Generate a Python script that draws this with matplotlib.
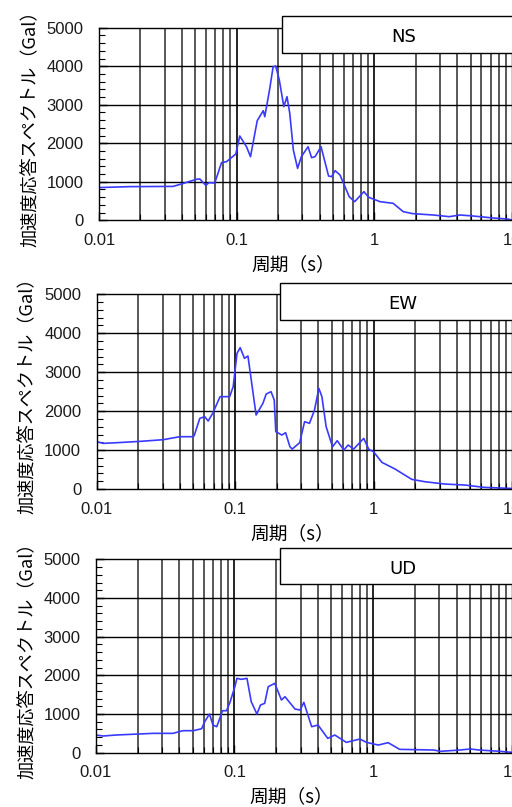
import matplotlib
matplotlib.use("Agg")
import matplotlib.pyplot as plt
from matplotlib.patches import Rectangle
from matplotlib.ticker import FixedLocator, MultipleLocator, NullFormatter

plt.rcParams['font.family'] = ['Noto Sans CJK JP', 'DejaVu Sans']

# period (s) and acceleration response (Gal)
ns_t = [0.01, 0.0167, 0.0345, 0.0397, 0.051, 0.054, 0.0596, 0.063, 0.0693, 0.0776,
        0.0844, 0.0985, 0.1053, 0.1178, 0.126, 0.141, 0.156, 0.160, 0.174, 0.184,
        0.192, 0.204, 0.220, 0.232, 0.243, 0.258, 0.277, 0.295, 0.330, 0.350,
        0.371, 0.410, 0.465, 0.489, 0.519, 0.563, 0.657, 0.720, 0.840, 0.910,
        1.10, 1.37, 1.62, 1.90, 2.67, 3.5, 4.2, 5.2, 7.3, 9.2, 10.0]
ns_a = [850, 874, 880, 943, 1064, 1073, 908, 977, 969, 1496,
        1522, 1721, 2188, 1911, 1652, 2586, 2846, 2690, 3425, 3988,
        4005, 3642, 2950, 3209, 2777, 1825, 1349, 1652, 1911, 1626,
        1652, 1911, 1150, 1133, 1289, 1176, 614, 484, 744, 597,
        484, 441, 225, 173, 138, 95, 138, 112, 60, 35, 10]

ew_t = [0.01, 0.0112, 0.014, 0.0206, 0.0303, 0.0399, 0.0498, 0.0507, 0.0557, 0.0604,
        0.064, 0.069, 0.078, 0.0915, 0.097, 0.1034, 0.109, 0.117, 0.124, 0.142,
        0.159, 0.168, 0.182, 0.192, 0.197, 0.218, 0.232, 0.249, 0.259, 0.293,
        0.318, 0.345, 0.375, 0.403, 0.424, 0.455, 0.506, 0.547, 0.611, 0.656,
        0.719, 0.85, 0.925, 1.0, 1.15, 1.43, 1.89, 2.35, 3.28, 4.56, 6.3, 10.0]
ew_a = [1216, 1173, 1190, 1224, 1267, 1344, 1344, 1370, 1815, 1858,
        1747, 1944, 2372, 2372, 2628, 3485, 3630, 3356, 3416, 1901,
        2200, 2440, 2500, 2286, 1473, 1387, 1447, 1087, 1027, 1190,
        1730, 1687, 2029, 2586, 2372, 1601, 1087, 1241, 1002, 1130,
        1027, 1301, 1019, 959, 685, 514, 248, 188, 128, 103, 43, 15]

ud_t = [0.01, 0.0113, 0.014, 0.026, 0.036, 0.0426, 0.0505, 0.058, 0.061, 0.066,
        0.070, 0.0745, 0.082, 0.0876, 0.0926, 0.1006, 0.104, 0.112, 0.123, 0.132,
        0.145, 0.154, 0.165, 0.175, 0.195, 0.218, 0.231, 0.273, 0.297, 0.316,
        0.36, 0.40, 0.47, 0.528, 0.64, 0.80, 0.895, 1.087, 1.28, 1.55,
        2.73, 3.05, 4.2, 5.0, 5.8, 8.2, 10.0]
ud_a = [457, 431, 457, 500, 500, 569, 569, 620, 802, 1000,
        715, 672, 1086, 1086, 1293, 1707, 1922, 1897, 1922, 1319,
        1000, 1233, 1276, 1707, 1793, 1362, 1448, 1129, 1103, 1302,
        672, 715, 370, 457, 267, 353, 267, 198, 259, 86,
        69, 35, 69, 95, 69, 35, 9]

labels = ['NS', 'EW', 'UD']
series = [(ns_t, ns_a), (ew_t, ew_a), (ud_t, ud_a)]
# axes rectangles [left, bottom, width, height] in figure fraction
rects = [[0.1934, 0.7270, 0.8066, 0.2387],
         [0.1885, 0.3940, 0.8115, 0.2413],
         [0.1870, 0.0673, 0.8130, 0.2396]]

fig = plt.figure(figsize=(5.12, 8.07), dpi=100)

minor_x = [m * 10.0 ** e for e in (-2, -1, 0) for m in range(2, 10)]

for (t, a), lab, r in zip(series, labels, rects):
    ax = fig.add_axes(r)
    ax.set_xscale('log')
    ax.set_xlim(0.01, 10)
    ax.set_ylim(0, 5000)

    # grid
    for x in minor_x:
        ax.axvline(x, color='#3c3c3c', lw=1.2, zorder=1)
    for x in (0.1, 1):
        ax.axvline(x, color='black', lw=1.2, zorder=1)
    for y in (1000, 2000, 3000, 4000):
        ax.axhline(y, color='black', lw=1.0, zorder=1)

    ax.plot(t, a, color='#3a3aff', lw=1.2, zorder=3)

    ax.xaxis.set_major_locator(FixedLocator([0.01, 0.1, 1, 10]))
    ax.xaxis.set_minor_locator(FixedLocator(minor_x))
    ax.xaxis.set_minor_formatter(NullFormatter())
    ax.set_xticklabels(['0.01', '0.1', '1', '10'], family='Liberation Sans')
    ax.yaxis.set_major_locator(MultipleLocator(1000))
    ax.yaxis.set_minor_locator(MultipleLocator(200))
    for lbl in ax.get_yticklabels():
        lbl.set_family('Liberation Sans')
    ax.tick_params(which='major', direction='in', length=6, width=1,
                   labelsize=12, labelcolor='#1a1a1a', top=False, right=False)
    ax.tick_params(axis='x', which='major', pad=9)
    ax.tick_params(axis='y', which='major', pad=11)
    ax.tick_params(which='minor', direction='in', length=4, width=0.8, top=False, right=False)
    for s in ax.spines.values():
        s.set_linewidth(1.0)
        s.set_zorder(4)

    ax.set_xlabel('周期（s）', fontsize=13.5)
    ax.xaxis.set_label_coords(0.47, -0.175)
    ax.set_ylabel('加速度応答スペクトル（Gal）', fontsize=13.1, labelpad=5)

    box = Rectangle((0.442, 0.870), 0.62, 0.19, transform=ax.transAxes,
                    facecolor='white', edgecolor='black', lw=1.0,
                    clip_on=False, zorder=6)
    ax.add_patch(box)
    ax.text(0.738, 0.952, lab, transform=ax.transAxes, ha='center', va='center',
            fontsize=13, family='DejaVu Sans', zorder=7)

fig.savefig('out.png', dpi=100)
